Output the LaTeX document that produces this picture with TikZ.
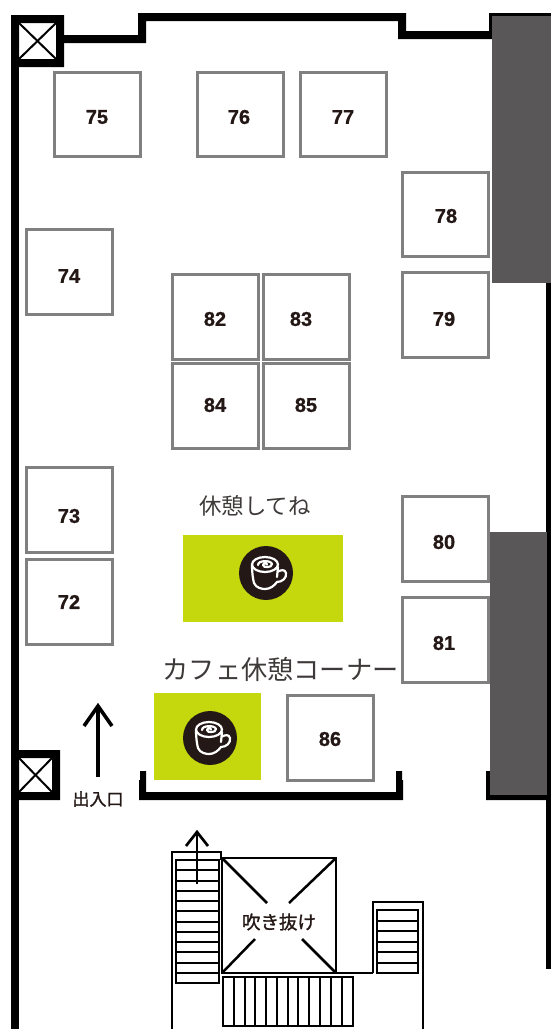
\documentclass[tikz,border=0pt]{standalone}
\usepackage{fontspec}
\setmainfont[BoldFeatures={FakeBold=0.8}]{Liberation Sans}
\newfontfamily\jp{Noto Sans CJK JP}
\newfontfamily\jpm[FakeBold=1.3]{Noto Sans CJK JP}
\definecolor{ink}{HTML}{231815}
\definecolor{seatgrey}{HTML}{808080}
\definecolor{wallgrey}{HTML}{595757}
\definecolor{limegreen}{HTML}{C5D80D}
\definecolor{jptext}{HTML}{3E3A39}
\tikzset{
  seat/.style={draw=seatgrey,line width=2.7pt,fill=white,rectangle,inner sep=0pt,
    minimum width=85.5pt,minimum height=84.5pt},
  lbl/.style={text=ink,font=\fontsize{20}{20}\selectfont\bfseries,inner sep=0pt},
  wallfill/.style={fill=black,draw=none},
  greybar/.style={fill=wallgrey,draw=none},
  greenbox/.style={fill=limegreen,draw=none},
  xline/.style={line width=2pt,black},
  stairline/.style={line width=2.5pt,black},
  arrowline/.style={line width=3.6pt,black},
  arrowthin/.style={line width=2.7pt,black},
  pics/cup/.style={code={
    \node[circle,fill=ink,minimum size=54pt,inner sep=0pt] (-disc) at (0,0) {};
    \draw[white,line width=2.2pt,line join=round,line cap=round]
      (-1,-8.5) ellipse [x radius=13,y radius=7.5]
      (-14,-8) .. controls (-14,0) and (-13,6) .. (-12,10)
      .. controls (-10,15) and (-4,16) .. (-1,16)
      .. controls (4,16) and (8,13) .. (11,9)
      .. controls (16,9) and (21,5) .. (20,0)
      .. controls (19,-4) and (15,-3) .. (12,-1.5)
      (12,-6) -- (11,4)
      (-8,-8) .. controls (-8,-13) and (5,-13) .. (6,-9)
      .. controls (6,-5) and (-3,-5) .. (-3,-8)
      .. controls (-3,-10) and (1,-10) .. (1,-8.5);
  }}
}
\begin{document}
\begin{tikzpicture}[x=1pt,y=-1pt]
\useasboundingbox (0,0) rectangle (551,1029);
\fill[white] (0,0) rectangle (551,1029);

% walls
\fill[wallfill] (11,60) rectangle (19,1029);
\fill[wallfill,even odd rule] (11,15) rectangle (64,67) (19,23) rectangle (56,59);
\fill[wallfill] (64,35) -- (138,35) -- (138,13) -- (406,13) -- (406,31) -- (489,31) -- (489,13)
  -- (551,13) -- (551,16) -- (492,16) -- (492,39) -- (398,39) -- (398,21) -- (146,21) -- (146,43) -- (64,43) -- cycle;
\fill[wallfill,even odd rule] (11,750) rectangle (60,800) (19,758) rectangle (52,792);
\fill[wallfill] (546,283) rectangle (551,969);
\fill[wallfill] (486,771) -- (490,771) -- (490,795) -- (551,795) -- (551,800) -- (486,800) -- cycle;
\fill[wallfill] (140,771) -- (146,771) -- (146,792) -- (396,792) -- (396,771) -- (402,771) -- (402,780) -- (403,780) -- (403,800) -- (139,800) -- (139,780) -- (140,780) -- cycle;

% pillar crosses
\coordinate (p1a) at (19,23); \coordinate (p1b) at (56,59);
\coordinate (p1c) at (56,23); \coordinate (p1d) at (19,59);
\draw[xline] (p1a) -- (p1b); \draw[xline] (p1c) -- (p1d);
\coordinate (p2a) at (19,758); \coordinate (p2b) at (52,792);
\coordinate (p2c) at (52,758); \coordinate (p2d) at (19,792);
\draw[xline] (p2a) -- (p2b); \draw[xline] (p2c) -- (p2d);

% dark bars
\fill[greybar] (492,16) rectangle (550.5,283);
\fill[greybar] (490,532) rectangle (546.5,795);

% green boxes
\fill[greenbox] (183,535) rectangle (343,622);
\fill[greenbox] (154,693) rectangle (261,780);
\pic (cupa) at (266,573) {cup};
\pic (cupb) at (210,738) {cup};

% seats
\node[seat] (s75) at (97.5,114.5) {};
\node[seat] (s76) at (240.5,114.5) {};
\node[seat] (s77) at (343.5,114.5) {};
\node[seat] (s78) at (445.5,214.5) {};
\node[seat] (s79) at (445.5,315) {};
\node[seat] (s74) at (69.5,272) {};
\node[seat] (s82) at (215.5,317) {};
\node[seat] (s83) at (306.5,317) {};
\node[seat] (s84) at (215.5,406) {};
\node[seat] (s85) at (306.5,406) {};
\node[seat] (s73) at (69.5,510) {};
\node[seat] (s72) at (69.5,602) {};
\node[seat] (s80) at (445.5,539) {};
\node[seat] (s81) at (445.5,640) {};
\node[seat] (s86) at (330.5,738) {};

\node[lbl] (t75) at (97,117) {75};
\node[lbl] (t76) at (239,117) {76};
\node[lbl] (t77) at (343,117) {77};
\node[lbl] (t78) at (446,216) {78};
\node[lbl] (t79) at (444,319) {79};
\node[lbl] (t74) at (69,276) {74};
\node[lbl] (t82) at (215,319) {82};
\node[lbl] (t83) at (301,319) {83};
\node[lbl] (t84) at (215,405) {84};
\node[lbl] (t85) at (306,405) {85};
\node[lbl] (t73) at (69,516) {73};
\node[lbl] (t72) at (69,602) {72};
\node[lbl] (t80) at (444,542) {80};
\node[lbl] (t81) at (444,643) {81};
\node[lbl] (t86) at (330,739) {86};

% texts
\node[text=jptext,inner sep=0pt] (rest) at (255,506) {\jp\fontsize{22.4}{22.4}\selectfont 休憩してね};
\node[text=jptext,inner sep=0pt] (cafe) at (280.5,669) {\jp\fontsize{26.2}{26.2}\selectfont カフェ休憩コーナー};
\node[text=ink,inner sep=0pt] (door) at (98,799) {\jpm\fontsize{17}{17}\selectfont 出入口};
\node[text=ink,inner sep=0pt] (void) at (279,922) {\jpm\fontsize{18.5}{18.5}\selectfont 吹き抜け};

% entrance arrow
\coordinate (e1) at (98,777); \coordinate (e2) at (98,706);
\coordinate (e3) at (84,726); \coordinate (e4) at (112,726);
\draw[arrowline] (e1) -- (e2);
\draw[arrowline,line join=miter] (e3) -- (e2) -- (e4);

% left stair
\draw[stairline] (172,1029) -- (172,852) -- (221,852) -- (221,860);
\foreach \y in {860,870,881,891,901,911,922,932,942,952,963,973,983} \draw[stairline] (176,\y) -- (219,\y);
\draw[stairline] (176,860) rectangle (219,983);

% stair arrow
\coordinate (a1) at (197,884); \coordinate (a2) at (197,832);
\coordinate (a3) at (186,846); \coordinate (a4) at (208,846);
\draw[arrowthin] (a1) -- (a2);
\draw[arrowthin,line join=miter] (a3) -- (a2) -- (a4);

% void
\draw[stairline] (222,858) rectangle (336,973);
\draw[stairline] (222,858) -- (267,903);
\draw[stairline] (336,858) -- (289,903);
\draw[stairline] (222,973) -- (255,939);
\draw[stairline] (336,973) -- (302,939);

% right stair
\draw[stairline] (336,973) -- (373,973);
\draw[stairline] (373,973) -- (373,902) -- (423,902) -- (423,1029);
\foreach \y in {910,921,931,942,952,963,973} \draw[stairline] (377,\y) -- (418,\y);
\draw[stairline] (377,910) rectangle (418,973);

% bottom stair
\foreach \x in {223,234,245,255,266,277,288,298,309,320,331,342,353} \draw[stairline] (\x,977) -- (\x,1026);
\draw[stairline] (223,977) rectangle (353,1026);
\end{tikzpicture}
\end{document}
